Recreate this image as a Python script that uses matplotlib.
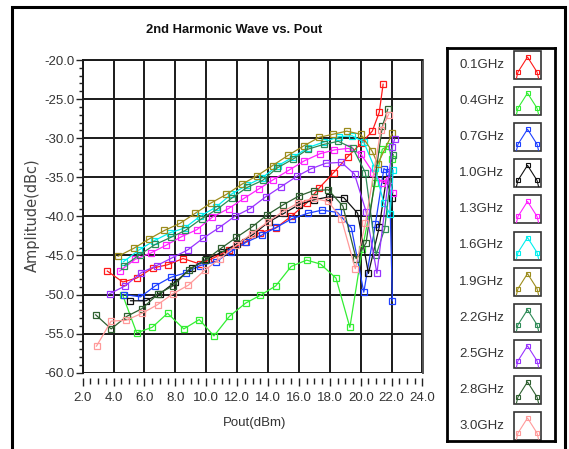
# 2nd harmonic vs Pout chart
import matplotlib
matplotlib.use("Agg")
import matplotlib.pyplot as plt
from matplotlib.ticker import MultipleLocator, FormatStrFormatter
from matplotlib.patches import Rectangle

labels = ["0.1GHz", "0.4GHz", "0.7GHz", "1.0GHz", "1.3GHz", "1.6GHz",
          "1.9GHz", "2.2GHz", "2.5GHz", "2.8GHz", "3.0GHz"]
colors = ["#FF1A1A", "#33EE33", "#1E40FF", "#111111", "#FF22FF", "#00EEEE",
          "#9C8C1C", "#2E8B57", "#9933FF", "#2F6030", "#FF9A9A"]

red_x = [3.6, 4.6, 5.5, 6.55, 7.5, 8.5, 9.6, 10.5, 11.5, 12.5, 13.45, 14.5, 15.5, 16.5, 17.3, 18.25, 19.15, 20.05, 20.75, 21.2, 21.45]
red_y = [-47.0, -48.4, -47.9, -46.6, -46.2, -45.4, -46.1, -45.3, -44.3, -43.3, -42.1, -41.5, -40.0, -38.3, -36.4, -34.4, -32.4, -30.6, -29.1, -26.7, -23.1]

lime_x = [4.6, 5.5, 6.5, 7.5, 8.55, 9.55, 10.5, 11.5, 12.55, 13.5, 14.5, 15.5, 16.5, 17.4, 18.4, 19.3, 20.1, 20.95, 21.4, 21.8, 22.0]
lime_y = [-50.1, -54.9, -54.2, -52.4, -54.4, -53.2, -55.3, -52.8, -51.1, -50.1, -48.9, -46.4, -45.6, -46.1, -47.9, -54.2, -44.2, -35.7, -31.4, -31.0, -32.6]

blue_x = [4.7, 5.75, 6.7, 7.7, 8.7, 9.6, 10.65, 11.6, 12.6, 13.6, 14.55, 15.55, 16.6, 17.5, 18.5, 19.4, 20.2, 20.95, 21.5, 21.85, 22.05]
blue_y = [-50.0, -50.3, -48.9, -47.8, -47.2, -46.3, -45.8, -44.5, -43.3, -42.4, -41.4, -40.3, -39.6, -39.2, -39.5, -41.5, -49.7, -41.0, -33.9, -34.3, -50.8]

black_x = [5.1, 6.1, 7.0, 8.0, 9.05, 10.0, 11.0, 12.0, 13.05, 14.05, 15.05, 16.0, 16.95, 17.95, 18.9, 19.8, 20.5, 21.2, 21.65, 22.05]
black_y = [-50.8, -50.8, -49.9, -48.4, -46.6, -45.5, -44.6, -43.5, -42.3, -40.7, -39.6, -38.5, -37.9, -37.5, -37.6, -39.6, -47.3, -41.4, -35.3, -37.7]

magenta_x = [4.4, 5.4, 6.4, 7.4, 8.4, 9.4, 10.4, 11.45, 12.45, 13.4, 14.35, 15.35, 16.35, 17.35, 18.3, 19.2, 20.0, 20.8, 21.4, 21.8, 22.1]
magenta_y = [-47.0, -45.5, -44.7, -43.7, -42.6, -41.7, -40.1, -39.0, -37.7, -36.5, -35.3, -34.1, -32.9, -32.0, -31.5, -31.3, -32.0, -34.4, -35.7, -35.3, -37.0]

cyan_x = [4.65, 5.65, 6.65, 7.65, 8.6, 9.6, 10.65, 11.6, 12.65, 13.6, 14.65, 15.65, 16.6, 17.6, 18.6, 19.45, 20.2, 20.9, 21.5, 21.9, 22.1]
cyan_y = [-45.8, -44.3, -43.1, -42.1, -41.5, -40.0, -38.8, -37.2, -36.0, -35.1, -33.5, -32.4, -31.2, -30.5, -29.8, -29.7, -30.5, -33.8, -38.3, -39.7, -34.1]

olive_x = [4.3, 5.3, 6.3, 7.3, 8.3, 9.3, 10.3, 11.3, 12.3, 13.3, 14.3, 15.3, 16.3, 17.3, 18.2, 19.1, 20.0, 20.75, 21.1, 22.05]
olive_y = [-45.1, -44.1, -42.9, -41.8, -40.9, -39.6, -38.3, -37.2, -35.9, -34.8, -33.5, -32.2, -31.0, -29.9, -29.5, -29.1, -29.5, -31.7, -33.3, -29.4]

sea_x = [4.7, 5.7, 6.7, 7.7, 8.65, 9.7, 10.7, 11.7, 12.65, 13.65, 14.6, 15.6, 16.6, 17.6, 18.55, 19.5, 20.3, 21.0, 21.55, 22.1]
sea_y = [-46.3, -44.9, -43.6, -42.7, -41.8, -40.3, -39.1, -37.6, -36.3, -35.4, -33.8, -32.7, -31.4, -30.8, -30.4, -31.3, -34.4, -44.9, -41.6, -32.1]

purple_x = [3.75, 4.75, 5.8, 6.8, 7.8, 8.8, 9.8, 10.8, 11.85, 12.85, 13.85, 14.85, 15.85, 16.8, 17.75, 18.75, 19.6, 20.35, 21.05, 22.05, 22.2]
purple_y = [-49.9, -48.9, -47.2, -46.3, -45.3, -44.3, -42.8, -41.5, -40.0, -39.0, -37.5, -36.2, -34.9, -33.9, -33.2, -33.1, -34.6, -39.4, -47.3, -31.1, -30.1]

dkgreen_x = [2.85, 3.85, 4.85, 5.85, 6.9, 7.85, 8.9, 9.95, 10.95, 11.95, 13.0, 13.95, 15.0, 16.0, 16.95, 17.9, 18.85, 19.7, 20.35, 21.4, 21.75]
dkgreen_y = [-52.6, -54.4, -52.8, -51.8, -49.9, -48.9, -46.8, -45.6, -44.1, -42.7, -41.3, -39.8, -38.5, -37.4, -36.7, -36.6, -38.7, -45.4, -43.4, -28.5, -26.3]

pink_x = [2.9, 3.85, 4.8, 5.85, 6.85, 7.85, 8.85, 9.9, 10.9, 11.95, 12.95, 14.0, 14.95, 15.95, 16.95, 17.9, 18.75, 19.65, 20.3, 21.3, 21.8]
pink_y = [-56.6, -53.4, -53.3, -52.4, -51.3, -49.9, -48.8, -46.9, -45.4, -43.7, -42.2, -40.7, -39.4, -38.3, -37.7, -38.1, -40.3, -46.7, -40.9, -29.0, -27.0]

xs_all = [red_x, lime_x, blue_x, black_x, magenta_x, cyan_x, olive_x, sea_x, purple_x, dkgreen_x, pink_x]
ys_all = [red_y, lime_y, blue_y, black_y, magenta_y, cyan_y, olive_y, sea_y, purple_y, dkgreen_y, pink_y]

sans = "Liberation Sans"
txt = "#333333"

fig = plt.figure(figsize=(5.69, 4.49), dpi=100)
W, H = 569.0, 449.0

ax = fig.add_axes([82.6 / W, 76.3 / H, 339.9 / W, 312.7 / H])
for xs, ys, c in zip(xs_all, ys_all, colors):
    ax.plot(xs, ys, "-", color=c, lw=0.9, marker="s", ms=4.3, mfc="none", mec=c, mew=0.9)

ax.set_xlim(2, 24)
ax.set_ylim(-60, -20)
ax.xaxis.set_major_locator(MultipleLocator(2))
ax.xaxis.set_minor_locator(MultipleLocator(0.5))
ax.yaxis.set_major_locator(MultipleLocator(5))
ax.yaxis.set_minor_locator(MultipleLocator(1))
ax.xaxis.set_major_formatter(FormatStrFormatter("%.1f"))
ax.yaxis.set_major_formatter(FormatStrFormatter("%.1f"))
ax.grid(which="major", color="#1a1a1a", lw=1.4)
ax.set_axisbelow(True)

ax.spines["bottom"].set_position(("outward", 4))
ax.spines["bottom"].set_visible(False)
ax.spines["top"].set_color("#1a1a1a")
ax.spines["right"].set_color("#555555")
ax.spines["left"].set_color("#1a1a1a")
for s in ["top", "right", "left"]:
    ax.spines[s].set_linewidth(1.4)

ax.tick_params(axis="x", which="major", length=6, width=1, colors="#222222", pad=4)
ax.tick_params(axis="x", which="minor", length=4, width=1, colors="#222222")
ax.tick_params(axis="y", which="major", length=5, width=1, colors="#222222", pad=1)
ax.tick_params(axis="y", which="minor", length=3, width=1, colors="#222222")
for lb in ax.get_xticklabels() + ax.get_yticklabels():
    lb.set_family(sans)
    lb.set_fontsize(9.5)
    lb.set_color(txt)

fig.text(234 / W, 1 - 30 / H, "2nd Harmonic Wave vs. Pout", ha="center", va="center",
         fontsize=9.3, fontweight="bold", family=sans, color="#111111")
fig.text(255 / W, 1 - 423 / H, "Pout(dBm)", ha="center", va="center",
         fontsize=9.5, family=sans, color=txt)
fig.text(32 / W, 1 - 215 / H, "Amplitude(dBc)", ha="center", va="center",
         rotation=90, fontsize=10.5, color="#444444")

# legend panel
lax = fig.add_axes([447 / W, 8 / H, 108 / W, 393 / H])
lax.set_xlim(0, 108)
lax.set_ylim(393, 0)
lax.set_xticks([])
lax.set_yticks([])
for s in lax.spines.values():
    s.set_linewidth(2)
    s.set_color("#000000")
for i, (lab, c) in enumerate(zip(labels, colors)):
    cy = 17 + 36.1 * i
    lax.text(57, cy, lab, ha="right", va="center", fontsize=9.5, family=sans, color=txt)
    lax.add_patch(Rectangle((67, cy - 14), 27, 28, fill=False, ec="#333333", lw=1.2))
    px = [69.5, 71, 80.5, 90, 91.5]
    py = [cy + 13, cy + 7, cy - 8, cy + 7, cy + 13]
    lax.plot(px, py, "-", color=c, lw=0.8)
    lax.plot(px[1:4], py[1:4], "s", ms=3, mfc="none", mec=c, mew=0.8)

fig.patches.append(Rectangle((12 / W, -0.05), 553 / W, 1.05 - 7 / H, transform=fig.transFigure,
                             fill=False, ec="#000000", lw=2.2))

fig.savefig("out.png", dpi=100)
